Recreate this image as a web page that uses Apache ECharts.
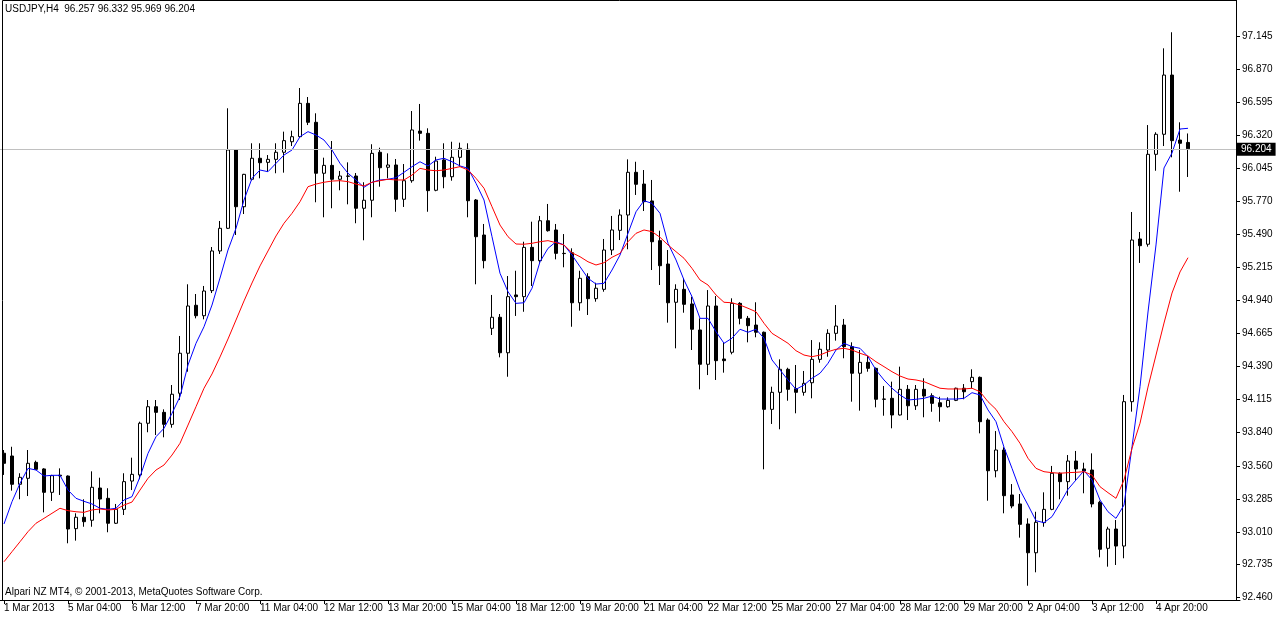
<!DOCTYPE html>
<html>
<head>
<meta charset="utf-8">
<script src="https://cdn.jsdelivr.net/npm/echarts@6.0.0/dist/echarts.min.js"></script>
<style>
html,body{margin:0;padding:0;background:#fff;}
#chart{width:1276px;height:618px;}
</style>
</head>
<body>
<div id="chart"></div>
<script>
const symbol = 'USDJPY';
const period = 'H4';
const footerText = 'Alpari NZ MT4, © 2001-2013, MetaQuotes Software Corp.';

const timeLabels = ['1 Mar 2013','5 Mar 04:00','6 Mar 12:00','7 Mar 20:00','11 Mar 04:00','12 Mar 12:00','13 Mar 20:00','15 Mar 04:00','18 Mar 12:00','19 Mar 20:00','21 Mar 04:00','22 Mar 12:00','25 Mar 20:00','27 Mar 04:00','28 Mar 12:00','29 Mar 20:00','2 Apr 04:00','3 Apr 12:00','4 Apr 20:00'];

const priceTicks = [97.145,96.870,96.595,96.320,96.045,95.770,95.490,95.215,94.940,94.665,94.390,94.115,93.840,93.560,93.285,93.010,92.735,92.460];

const opens = [
93.665,93.642,93.406,93.456,93.589,93.534,93.339,93.482,93.475,93.036,
93.131,93.106,93.375,93.289,93.081,93.197,93.433,93.484,93.915,94.053,
94.006,93.906,94.165,94.499,94.899,94.812,95.021,95.352,95.541,96.194,
95.721,95.950,96.125,96.091,96.116,96.175,96.263,96.305,96.583,96.425,
96.000,96.066,95.950,95.977,95.977,95.708,95.775,96.175,96.050,96.069,
95.783,95.938,96.352,96.333,95.858,96.111,95.971,96.133,96.200,95.777,
95.485,94.707,94.799,94.503,94.985,94.971,95.382,95.271,95.604,95.527,
95.332,95.337,94.920,95.137,94.954,95.032,95.360,95.524,95.652,96.008,
95.910,95.769,95.438,95.243,94.924,95.032,94.910,94.693,94.407,94.893,
94.451,94.507,94.915,94.790,94.734,94.674,94.031,94.173,94.365,94.203,
94.173,94.253,94.448,94.526,94.665,94.734,94.554,94.332,94.423,94.373,
94.117,94.123,93.984,94.198,94.061,94.198,94.145,94.086,94.053,94.106,
94.207,94.262,94.298,93.942,93.519,93.692,93.317,93.242,93.075,92.835,
93.086,93.197,93.498,93.428,93.600,93.534,93.525,93.256,92.872,93.033,
92.891,94.095,95.452,95.408,96.158,96.325,96.819,96.277,96.257];

const closes = [
93.581,93.406,93.464,93.581,93.531,93.339,93.478,93.476,93.033,93.131,
93.094,93.381,93.283,93.081,93.197,93.428,93.489,93.915,94.053,94.006,
93.906,94.157,94.499,94.893,94.812,95.018,95.352,95.541,96.194,95.721,
95.991,96.125,96.088,96.116,96.175,96.272,96.305,96.583,96.425,96.000,
96.066,95.950,95.977,95.975,95.708,95.775,96.166,96.046,96.069,95.783,
95.938,96.361,96.333,95.855,96.102,95.971,96.133,96.208,95.771,95.471,
95.271,94.799,94.503,94.971,94.971,95.382,95.271,95.604,95.521,95.332,
95.330,94.920,95.124,94.954,95.041,95.360,95.527,95.652,96.008,95.908,
95.763,95.429,95.229,94.920,95.032,94.907,94.699,94.407,94.893,94.437,
94.437,94.915,94.790,94.729,94.674,94.031,94.173,94.365,94.198,94.173,
94.248,94.448,94.532,94.665,94.726,94.554,94.332,94.423,94.373,94.115,
94.115,93.984,94.198,94.061,94.198,94.142,94.081,94.053,94.106,94.207,
94.178,94.298,93.928,93.519,93.692,93.311,93.225,93.072,92.835,93.089,
93.197,93.498,93.428,93.600,93.534,93.517,93.242,92.864,93.033,92.891,
94.095,95.443,95.396,96.158,96.325,96.819,96.272,96.250,96.204];

const lows = [
93.484,93.353,93.281,93.308,93.525,93.172,93.267,93.317,92.914,92.936,
93.052,93.052,93.164,93.006,93.075,93.150,93.358,93.448,93.840,93.817,
93.798,93.878,94.109,94.345,94.790,94.782,95.001,95.327,95.535,95.485,
95.660,95.940,95.958,96.013,96.000,96.005,96.227,96.294,96.402,95.758,
95.633,95.708,95.858,95.741,95.583,95.441,95.633,95.888,95.958,95.679,
95.719,95.921,96.272,95.679,95.850,95.875,95.938,96.055,95.633,95.074,
95.207,94.651,94.465,94.303,94.810,94.845,95.060,95.254,95.513,95.282,
95.216,94.720,94.854,94.818,94.929,95.012,95.318,95.443,95.366,95.819,
95.685,95.193,95.068,94.754,94.540,94.837,94.526,94.198,94.317,94.276,
94.337,94.490,94.740,94.590,94.632,93.531,93.909,93.865,94.103,93.998,
94.145,94.123,94.420,94.470,94.604,94.457,94.095,94.020,94.345,94.048,
93.978,93.873,93.980,93.942,94.026,93.965,94.011,93.928,94.045,94.100,
94.115,94.207,93.831,93.269,93.464,93.164,93.206,92.961,92.560,92.672,
93.052,93.190,93.281,93.311,93.442,93.331,93.214,92.797,92.719,92.733,
92.789,94.012,95.252,95.388,96.021,96.227,96.133,95.846,95.969];

const highs = [
93.692,93.719,93.498,93.692,93.603,93.540,93.485,93.539,93.480,93.164,
93.281,93.514,93.461,93.373,93.242,93.498,93.628,93.928,94.109,94.109,
94.031,94.234,94.643,95.074,94.993,95.060,95.385,95.602,96.542,96.200,
95.995,96.250,96.250,96.152,96.250,96.347,96.355,96.711,96.636,96.500,
96.130,96.269,96.019,96.091,96.002,95.925,96.242,96.213,96.166,96.119,
96.077,96.519,96.578,96.375,96.138,96.250,96.263,96.255,96.250,95.785,
95.577,94.985,94.826,95.143,95.187,95.429,95.596,95.644,95.744,95.577,
95.493,95.374,95.187,95.166,95.087,95.452,95.644,95.699,96.116,96.096,
96.027,95.944,95.521,95.360,95.074,95.124,94.971,94.790,95.026,94.976,
94.587,94.957,94.925,94.810,94.924,94.680,94.220,94.448,94.378,94.401,
94.351,94.609,94.590,94.699,94.901,94.785,94.590,94.526,94.476,94.380,
94.226,94.262,94.387,94.234,94.234,94.290,94.165,94.136,94.131,94.212,
94.242,94.365,94.305,93.956,93.850,93.715,93.408,93.325,93.122,93.177,
93.339,93.559,93.505,93.650,93.684,93.586,93.664,93.269,93.052,93.108,
94.151,95.677,95.510,96.402,96.342,97.042,97.176,96.425,96.332];

const maFast = [
93.075,93.261,93.414,93.539,93.525,93.475,93.481,93.481,93.358,93.289,
93.264,93.242,93.206,93.197,93.206,93.275,93.303,93.469,93.664,93.803,
93.873,93.998,94.137,94.401,94.582,94.720,94.901,95.126,95.360,95.541,
95.777,95.958,96.027,96.013,96.083,96.152,96.194,96.305,96.347,96.319,
96.277,96.194,96.083,96.000,95.944,95.883,95.925,95.944,95.950,95.963,
96.008,96.055,96.096,96.061,96.111,96.125,96.096,96.061,96.041,95.916,
95.777,95.471,95.166,95.012,94.915,94.920,95.041,95.262,95.374,95.429,
95.402,95.318,95.221,95.124,95.076,95.082,95.193,95.318,95.499,95.679,
95.771,95.749,95.666,95.416,95.277,95.110,94.971,94.790,94.790,94.679,
94.582,94.624,94.699,94.674,94.699,94.624,94.443,94.359,94.276,94.198,
94.234,94.290,94.332,94.415,94.526,94.582,94.554,94.540,94.470,94.359,
94.276,94.207,94.151,94.109,94.115,94.123,94.142,94.117,94.117,94.117,
94.123,94.170,94.151,94.026,93.928,93.715,93.539,93.358,93.233,93.102,
93.086,93.136,93.247,93.364,93.442,93.519,93.442,93.275,93.177,93.122,
93.233,93.719,94.220,94.843,95.402,96.044,96.169,96.369,96.375];

const maSlow = [
92.760,92.844,92.927,93.011,93.081,93.122,93.164,93.206,93.186,93.177,
93.172,93.192,93.200,93.192,93.197,93.233,93.258,93.358,93.456,93.525,
93.567,93.650,93.748,93.900,94.053,94.207,94.326,94.468,94.618,94.776,
94.935,95.085,95.227,95.352,95.477,95.583,95.666,95.763,95.888,95.910,
95.925,95.935,95.938,95.930,95.910,95.894,95.925,95.938,95.950,95.944,
95.944,95.985,96.041,96.027,96.021,96.027,96.041,96.055,96.027,95.958,
95.875,95.721,95.568,95.471,95.410,95.408,95.416,95.429,95.438,95.421,
95.402,95.337,95.304,95.262,95.235,95.254,95.299,95.332,95.429,95.499,
95.527,95.513,95.466,95.402,95.346,95.291,95.207,95.110,95.068,94.985,
94.924,94.920,94.901,94.874,94.845,94.749,94.665,94.624,94.582,94.520,
94.484,94.470,94.484,94.512,94.532,94.540,94.526,94.499,94.476,94.428,
94.387,94.345,94.309,94.284,94.276,94.262,94.234,94.207,94.201,94.201,
94.201,94.207,94.178,94.095,94.031,93.928,93.845,93.748,93.623,93.539,
93.511,93.503,93.498,93.503,93.506,93.511,93.483,93.386,93.336,93.289,
93.442,93.706,93.915,94.217,94.484,94.751,95.001,95.177,95.296];

const SLOTS = 155;
const categories = Array.from({length: SLOTS}, (_, i) => String(i));
const last = closes.length - 1;
const candleData = opens.map((o, i) => [o, closes[i], lows[i], highs[i]]);
const FONT = 'Liberation Sans';
const showTick = (i) => i % 8 === 0 && (i / 8) < timeLabels.length;

const chart = echarts.init(document.getElementById('chart'), null, {renderer: 'canvas'});
chart.setOption({
  animation: false,
  backgroundColor: '#ffffff',
  title: [
    {
      text: symbol + ',' + period + '  ' + opens[last].toFixed(3) + ' ' + highs[last].toFixed(3) + ' ' + lows[last].toFixed(3) + ' ' + closes[last].toFixed(3),
      left: 5, top: 4, padding: 0,
      textStyle: {fontSize: 10, fontWeight: 'normal', color: '#000', fontFamily: FONT}
    },
    {
      text: footerText,
      left: 5, top: 587, padding: 0,
      textStyle: {fontSize: 10, fontWeight: 'normal', color: '#000', fontFamily: FONT}
    }
  ],
  grid: {left: 0, top: 0, width: 8 * SLOTS, height: 600, containLabel: false},
  xAxis: {
    type: 'category',
    data: categories,
    boundaryGap: true,
    axisLine: {show: true, lineStyle: {color: '#000', width: 1}},
    axisTick: {show: true, alignWithLabel: true, interval: (i) => showTick(i), length: 4, lineStyle: {color: '#000'}},
    axisLabel: {
      interval: (i) => showTick(i),
      formatter: (v, i) => (i % 8 === 0 && timeLabels[i / 8]) ? timeLabels[i / 8] : '',
      align: 'left', margin: 3, fontSize: 10, color: '#000', fontFamily: FONT
    },
    splitLine: {show: false}
  },
  yAxis: {
    type: 'value',
    position: 'right',
    offset: -4,
    min: 92.441,
    max: 97.445,
    axisLine: {show: true, lineStyle: {color: '#000', width: 1}},
    axisTick: {show: true, customValues: priceTicks, length: 4, inside: false, lineStyle: {color: '#000'}},
    axisLabel: {customValues: priceTicks, formatter: (v) => Number(v).toFixed(3), margin: 6, fontSize: 10, color: '#000', fontFamily: FONT},
    splitLine: {show: false}
  },
  graphic: [
    {type: 'rect', silent: true, z: 100, shape: {x: 2.5, y: 0.5, width: 1234, height: 600}, style: {fill: 'none', stroke: '#000', lineWidth: 1}}
  ],
  series: [
    {
      type: 'candlestick',
      data: candleData,
      barWidth: 4,
      itemStyle: {color: '#ffffff', color0: '#000000', borderColor: '#000000', borderColor0: '#000000', borderColorDoji: '#000000', borderWidth: 1},
      emphasis: {disabled: true},
      markLine: {
        silent: true,
        symbol: ['none', 'none'],
        data: [{yAxis: closes[last]}],
        lineStyle: {color: '#c0c0c0', width: 1, type: 'solid'},
        label: {
          show: true, position: 'end', distance: -3,
          formatter: () => closes[last].toFixed(3),
          color: '#fff', backgroundColor: '#000', padding: [2, 4, 1, 4],
          fontSize: 10, fontFamily: FONT
        },
        emphasis: {disabled: true}
      }
    },
    {
      type: 'line', data: maFast, showSymbol: false, symbol: 'none', smooth: false,
      lineStyle: {color: '#0000ff', width: 1}, itemStyle: {color: '#0000ff'}, emphasis: {disabled: true}
    },
    {
      type: 'line', data: maSlow, showSymbol: false, symbol: 'none', smooth: false,
      lineStyle: {color: '#ff0000', width: 1}, itemStyle: {color: '#ff0000'}, emphasis: {disabled: true}
    }
  ]
});
</script>
</body>
</html>
